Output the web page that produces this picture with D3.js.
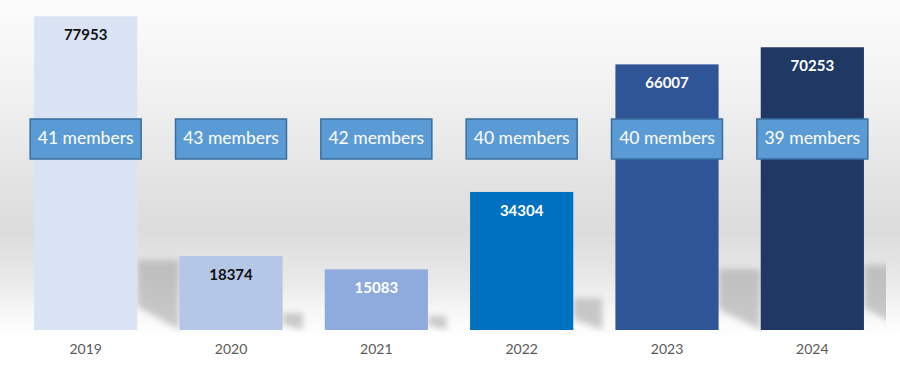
<!DOCTYPE html>
<html>
<head>
<meta charset="utf-8">
<script src="https://cdn.jsdelivr.net/npm/d3@7"></script>
<style>
  html, body { margin: 0; padding: 0; background: #fff; }
  svg { display: block; }
</style>
</head>
<body>
<svg id="chart" width="900" height="375"></svg>
<script>
const years = ["2019", "2020", "2021", "2022", "2023", "2024"];
const values = [77953, 18374, 15083, 34304, 66007, 70253];
const members = [41, 43, 42, 40, 40, 39];
const barColors = ["#DAE3F3", "#B4C7E7", "#8FAADC", "#0070C0", "#2F5597", "#1F3864"];
const labelColors = ["#111111", "#111111", "#ffffff", "#ffffff", "#ffffff", "#ffffff"];

const W = 900, H = 375;
const svg = d3.select("#chart");
const defs = svg.append("defs");

// background gradient
const bg = defs.append("linearGradient").attr("id", "bg")
  .attr("x1", 0).attr("y1", 0).attr("x2", 0).attr("y2", 1);
[[0, "#fcfcfc"], [0.25, "#f1f1f1"], [0.5, "#e2e2e2"], [0.62, "#dcdcdc"], [0.74, "#e8e8e8"], [0.84, "#f8f8f8"], [0.9, "#ffffff"], [1, "#ffffff"]]
  .forEach(([o, c]) => bg.append("stop").attr("offset", o).attr("stop-color", c));
svg.append("rect").attr("width", W).attr("height", H).attr("fill", "url(#bg)");

const blur = defs.append("filter").attr("id", "blur")
  .attr("x", "-50%").attr("y", "-50%").attr("width", "200%").attr("height", "200%");
blur.append("feGaussianBlur").attr("stdDeviation", 3);

defs.append("clipPath").attr("id", "plotclip")
  .append("rect").attr("x", 0).attr("y", 0).attr("width", 886).attr("height", 332);

const x = d3.scaleBand().domain(years).range([13, 885]).paddingInner(0.29).paddingOuter(0.145);
const y = d3.scaleLinear().domain([0, 82000]).range([330, 0]);
const bw = x.bandwidth();

// shadows on the floor
svg.append("g").attr("clip-path", "url(#plotclip)")
  .selectAll("path").data(years).join("path")
  .attr("d", (d, i) => {
    const r = x(d) + bw;
    const hs = Math.min((y(0) - y(values[i])) * 0.23, 70);
    const top = y(0) - hs;
    const w = Math.min(42, 0.6 * hs + 10);
    return `M${r},${top} L${r + w},${top} L${r + w},${y(0)} L${r},${top + 0.66 * hs} Z`;
  })
  .attr("fill", "#a0a0a0")
  .attr("opacity", 0.55)
  .attr("filter", "url(#blur)");

// bars
svg.append("g").selectAll("rect").data(years).join("rect")
  .attr("x", d => x(d))
  .attr("y", (d, i) => y(values[i]))
  .attr("width", bw)
  .attr("height", (d, i) => y(0) - y(values[i]))
  .attr("fill", (d, i) => barColors[i]);

// value labels
svg.append("g").selectAll("text").data(years).join("text")
  .attr("x", d => x(d) + bw / 2)
  .attr("y", (d, i) => y(values[i]) + 24)
  .attr("text-anchor", "middle")
  .attr("font-family", "Lato, 'Open Sans', sans-serif")
  .attr("font-weight", "bold")
  .attr("font-size", 15)
  .attr("fill", (d, i) => labelColors[i])
  .text((d, i) => values[i]);

// member boxes
const mg = svg.append("g");
mg.selectAll("rect").data(years).join("rect")
  .attr("x", d => x(d) + bw / 2 - 55.5)
  .attr("y", 119)
  .attr("width", 111)
  .attr("height", 40)
  .attr("fill", "#5B9BD5")
  .attr("stroke", "#3A6E9E")
  .attr("stroke-width", 1.5);
mg.selectAll("text").data(years).join("text")
  .attr("x", d => x(d) + bw / 2)
  .attr("y", 144)
  .attr("text-anchor", "middle")
  .attr("font-family", "Lato, 'Open Sans', sans-serif")
  .attr("font-size", 17.5)
  .attr("fill", "#ffffff")
  .text((d, i) => members[i] + " members");

// x axis
const xAxis = svg.append("g").attr("transform", "translate(0,330)")
  .call(d3.axisBottom(x).tickSize(0).tickPadding(14));
xAxis.select(".domain").remove();
xAxis.selectAll("text")
  .attr("font-family", "Lato, 'Open Sans', sans-serif")
  .attr("font-size", 14)
  .attr("fill", "#595959");
</script>
</body>
</html>
